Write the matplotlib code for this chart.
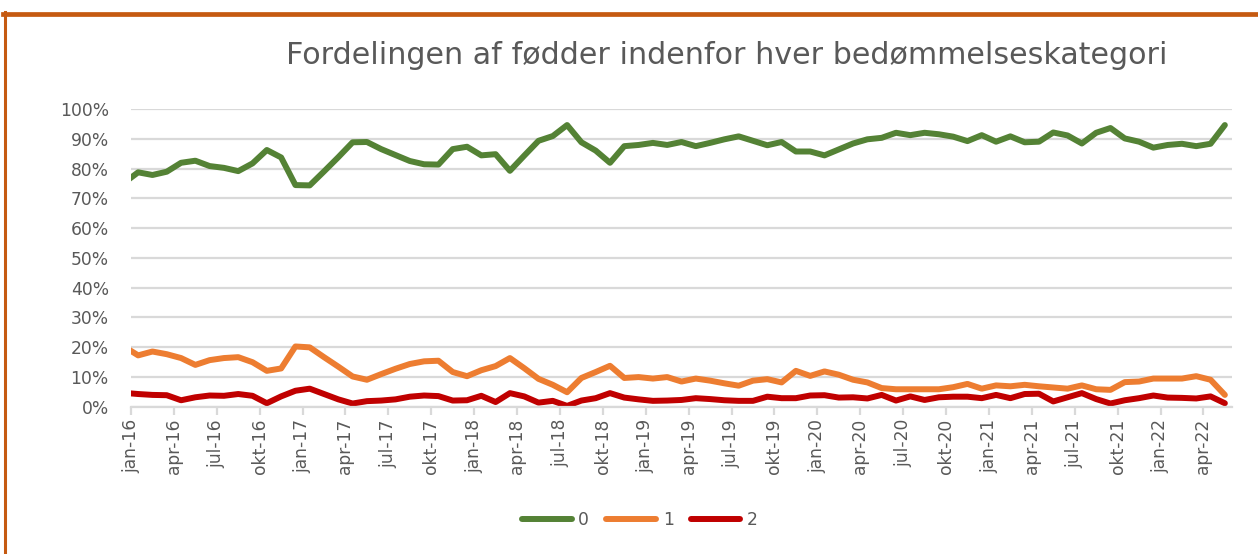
import matplotlib
matplotlib.use("Agg")
import matplotlib.pyplot as plt
from matplotlib.lines import Line2D
from matplotlib.ticker import PercentFormatter

# andel (%) per maaned, dec-15 .. maj-22 (dec-15 ligger uden for aksen og klippes)
kategori_0 = [75.2,
              78.8, 77.9, 79.0, 82.0, 82.7, 80.9, 80.3, 79.2, 81.8, 86.3, 83.8, 74.5,
              74.4, 79.1, 83.9, 88.9, 89.0, 86.6, 84.6, 82.6, 81.5, 81.4, 86.6, 87.4,
              84.5, 84.9, 79.3, 84.4, 89.4, 91.0, 94.7, 88.9, 86.1, 82.0, 87.6, 88.0,
              88.7, 88.0, 89.0, 87.6, 88.7, 89.9, 90.9, 89.4, 87.9, 89.0, 85.8, 85.8,
              84.5, 86.5, 88.5, 89.9, 90.4, 92.1, 91.3, 92.1, 91.6, 90.8, 89.3, 91.3,
              89.1, 90.9, 88.9, 89.1, 92.2, 91.2, 88.5, 92.1, 93.7, 90.2, 89.1, 87.1,
              88.0, 88.4, 87.6, 88.4, 94.7]
kategori_1 = [20.2,
              17.2, 18.5, 17.6, 16.3, 14.0, 15.6, 16.3, 16.6, 14.9, 12.0, 12.8, 20.2,
              19.9, 16.6, 13.4, 10.1, 9.0, 10.9, 12.7, 14.3, 15.2, 15.4, 11.6, 10.2,
              12.2, 13.6, 16.3, 12.9, 9.3, 7.3, 4.8, 9.6, 11.6, 13.7, 9.6, 9.9,
              9.4, 9.9, 8.4, 9.4, 8.7, 7.8, 7.0, 8.7, 9.2, 8.1, 12.0, 10.3,
              11.8, 10.7, 9.0, 8.1, 6.2, 5.8, 5.8, 5.8, 5.8, 6.5, 7.6, 6.0,
              7.1, 6.8, 7.3, 6.8, 6.4, 6.0, 7.1, 5.8, 5.6, 8.2, 8.4, 9.4,
              9.4, 9.4, 10.2, 9.0, 3.9]
kategori_2 = [4.6,
              4.2, 3.9, 3.8, 2.1, 3.1, 3.7, 3.6, 4.2, 3.6, 1.1, 3.4, 5.3,
              6.0, 4.2, 2.4, 1.0, 1.8, 2.0, 2.4, 3.3, 3.7, 3.5, 2.0, 2.1,
              3.6, 1.5, 4.5, 3.4, 1.3, 1.9, 0.2, 2.0, 2.8, 4.5, 3.0, 2.4,
              1.9, 2.0, 2.2, 2.8, 2.5, 2.1, 1.9, 1.9, 3.3, 2.8, 2.8, 3.7,
              3.8, 3.0, 3.1, 2.7, 3.9, 2.0, 3.4, 2.2, 3.1, 3.3, 3.3, 2.8,
              3.9, 2.8, 4.2, 4.3, 1.7, 3.1, 4.5, 2.5, 1.0, 2.1, 2.8, 3.7,
              3.0, 2.9, 2.7, 3.4, 1.1]

tick_labels = ["jan-16", "apr-16", "jul-16", "okt-16",
               "jan-17", "apr-17", "jul-17", "okt-17",
               "jan-18", "apr-18", "jul-18", "okt-18",
               "jan-19", "apr-19", "jul-19", "okt-19",
               "jan-20", "apr-20", "jul-20", "okt-20",
               "jan-21", "apr-21", "jul-21", "okt-21",
               "jan-22", "apr-22"]

serier = [("0", kategori_0, "#548235"),
          ("1", kategori_1, "#ED7D31"),
          ("2", kategori_2, "#C00000")]

tekst = "#595959"
grid = "#D9D9D9"

W, H = 1258, 554
fig = plt.figure(figsize=(W / 100, H / 100), dpi=100)
ax = fig.add_axes([131 / W, 1 - 406.5 / H, 1101 / W, 297.2 / H])

# punkterne sidder midt i maaneden, dec-15 ligger ved -0.5
x = [i - 0.5 for i in range(len(kategori_0))]
for navn, vals, farve in serier:
    ax.plot(x, vals, color=farve, lw=4.3, label=navn,
            solid_joinstyle="round", solid_capstyle="round")

ax.set_xlim(0, 77)
ax.set_ylim(0, 100)
ax.set_yticks(range(0, 101, 10))
ax.yaxis.set_major_formatter(PercentFormatter(decimals=0))
ax.set_xticks(range(0, 77, 3))
ax.set_xticklabels(tick_labels, rotation=90)

ax.grid(axis="y", color=grid, lw=1.6)
ax.set_axisbelow(True)
for s in ["top", "right", "left"]:
    ax.spines[s].set_visible(False)
ax.spines["bottom"].set_color(grid)
ax.spines["bottom"].set_linewidth(1.6)
ax.tick_params(axis="y", length=0, pad=16, labelsize=12.3, labelcolor=tekst)
ax.tick_params(axis="x", length=6, width=1.6, color=grid, pad=3,
               labelsize=12.3, labelcolor=tekst)

# titel, skaleret saa bredden passer
titel = fig.text(727 / W, 1 - 55 / H,
                 "Fordelingen af fødder indenfor hver bedømmelseskategori",
                 ha="center", va="center", color=tekst, fontsize=20)
fig.canvas.draw()
bredde = titel.get_window_extent().width
titel.set_fontsize(20 * 880 / bredde)

fig.legend(loc="center", bbox_to_anchor=(640 / W, 1 - 520 / H), ncol=3,
           frameon=False, fontsize=12.3, labelcolor=tekst,
           handlelength=2.9, handletextpad=0.4, columnspacing=1.0)

# orange ramme (kun top og venstre side synlig)
kant = "#C55A11"
fig.add_artist(Line2D([3 / W, 1], [1 - 13.5 / H, 1 - 13.5 / H],
                      transform=fig.transFigure, color=kant, lw=3.4))
fig.add_artist(Line2D([4.7 / W, 4.7 / W], [0, 1 - 11.5 / H],
                      transform=fig.transFigure, color=kant, lw=2.2))

fig.savefig("out.png", dpi=100)
